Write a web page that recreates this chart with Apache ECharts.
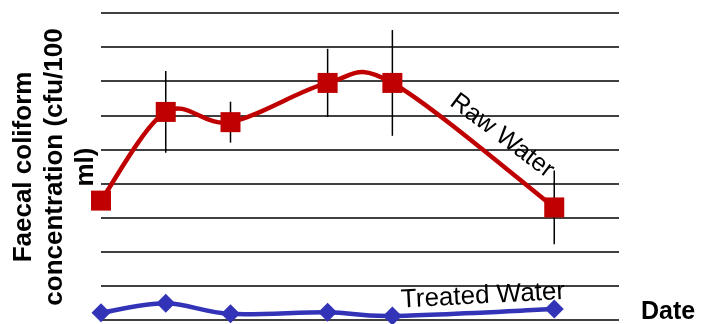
<!DOCTYPE html>
<html>
<head>
<meta charset="utf-8">
<script src="https://cdn.jsdelivr.net/npm/echarts@6/dist/echarts.min.js"></script>
<style>html,body{margin:0;padding:0;background:#fff}#c{width:701px;height:324px}</style>
</head>
<body>
<div id="c"></div>
<script>
// Sampling day (x positions, relative)
var days = [0, 2, 4, 7, 9, 14];
// Raw water faecal coliform (relative units, 1 per gridline)
var rawWater = [3.5, 6.1, 5.8, 6.95, 6.95, 3.3];
var rawError = [0, 1.2, 0.6, 1.0, 1.55, 1.08];
// Treated water
var treatedWater = [0.21, 0.49, 0.18, 0.23, 0.12, 0.32];

var FONT = '"Liberation Sans", Arial, sans-serif';
var RED = '#C00000', BLUE = '#3333B8';
var chart = echarts.init(document.getElementById('c'), null, {renderer: 'canvas'});

var rawPts = days.map(function (d, i) { return [d, rawWater[i]]; });
var trPts = days.map(function (d, i) { return [d, treatedWater[i]]; });
var errPts = days.map(function (d, i) { return [d, rawWater[i] - rawError[i], rawWater[i] + rawError[i]]; });

// Excel-like smoothed curve (cardinal spline) built from the axis coordinates
function smoothCurve(vals, color) {
  return function (params, api) {
    if (params.dataIndex !== 0) return null;
    var p = days.map(function (d, i) { return api.coord([d, vals[i]]); });
    var n = p.length, children = [];
    for (var i = 0; i < n - 1; i++) {
      var p0 = p[Math.max(i - 1, 0)], p1 = p[i], p2 = p[i + 1], p3 = p[Math.min(i + 2, n - 1)];
      children.push({
        type: 'bezierCurve',
        shape: {
          x1: p1[0], y1: p1[1], x2: p2[0], y2: p2[1],
          cpx1: p1[0] + (p2[0] - p0[0]) / 6, cpy1: p1[1] + (p2[1] - p0[1]) / 6,
          cpx2: p2[0] - (p3[0] - p1[0]) / 6, cpy2: p2[1] - (p3[1] - p1[1]) / 6
        },
        style: {stroke: color, lineWidth: 4.5, fill: null, lineCap: 'round'}
      });
    }
    return {type: 'group', children: children};
  };
}

chart.setOption({
  animation: false,
  grid: {left: 101, right: 82, top: 13, bottom: 4},
  xAxis: {
    type: 'value', min: 0, max: 16,
    axisLine: {show: false}, axisTick: {show: false}, axisLabel: {show: false}, splitLine: {show: false}
  },
  yAxis: {
    type: 'value', min: 0, max: 9, interval: 1,
    axisLine: {show: false}, axisTick: {show: false}, axisLabel: {show: false},
    splitLine: {show: true, lineStyle: {color: '#000', width: 1.6}}
  },
  series: [
    {
      type: 'custom', z: 1, clip: false, data: errPts,
      renderItem: function (params, api) {
        if (api.value(1) === api.value(2)) return null;
        var lo = api.coord([api.value(0), api.value(1)]);
        var hi = api.coord([api.value(0), api.value(2)]);
        return {type: 'line', shape: {x1: lo[0], y1: lo[1], x2: hi[0], y2: hi[1]},
          style: {stroke: '#000', lineWidth: 1.5}};
      }
    },
    {type: 'custom', z: 2, clip: false, data: rawPts, renderItem: smoothCurve(rawWater, RED)},
    {type: 'custom', z: 2, clip: false, data: trPts, renderItem: smoothCurve(treatedWater, BLUE)},
    {
      name: 'Raw Water', type: 'scatter', z: 3, clip: false,
      data: rawPts, symbol: 'rect', symbolSize: 20, itemStyle: {color: RED, opacity: 1}
    },
    {
      name: 'Treated Water', type: 'scatter', z: 3, clip: false,
      data: trPts, symbol: 'diamond', symbolSize: [19, 19], itemStyle: {color: BLUE, opacity: 1}
    }
  ],
  graphic: [
    {type: 'text', x: 55, y: 167, rotation: Math.PI / 2,
      style: {text: 'Faecal coliform\nconcentration (cfu/100\nml)', font: 'bold 26px ' + FONT,
        fill: '#000', align: 'center', verticalAlign: 'middle', lineHeight: 31}},
    {type: 'text', x: 641, y: 312,
      style: {text: 'Date', font: 'bold 25px ' + FONT, fill: '#000', align: 'left', verticalAlign: 'middle'}},
    {type: 'text', x: 502, y: 136, rotation: -37 * Math.PI / 180, z: 10,
      style: {text: 'Raw Water', font: '25px ' + FONT, fill: '#000', align: 'center', verticalAlign: 'middle'}},
    {type: 'text', x: 483, y: 296, rotation: 3 * Math.PI / 180, z: 10,
      style: {text: 'Treated Water', font: '26px ' + FONT, fill: '#000', align: 'center', verticalAlign: 'middle'}}
  ]
});
</script>
</body>
</html>
